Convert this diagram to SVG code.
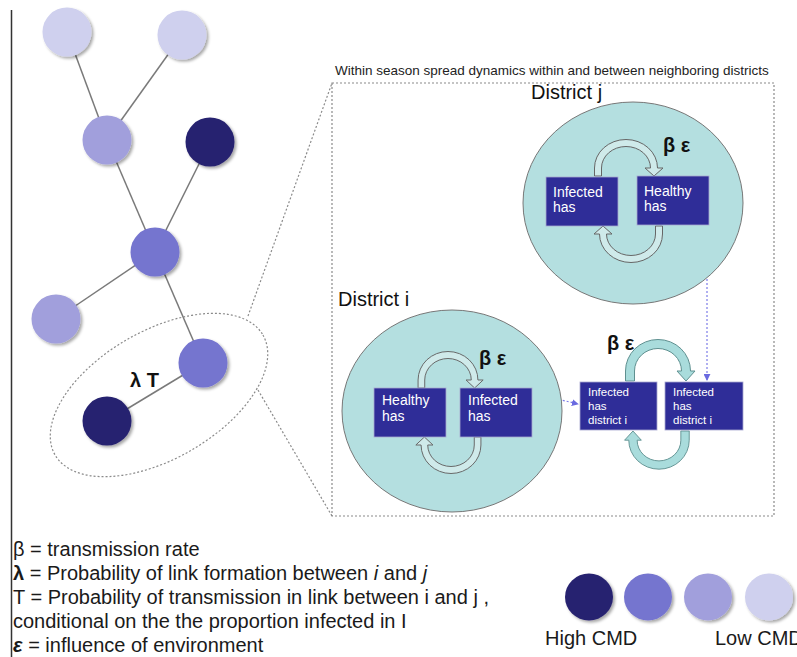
<svg xmlns="http://www.w3.org/2000/svg" xmlns:xlink="http://www.w3.org/1999/xlink" width="797" height="657" viewBox="0 0 797 657">
  <style>
    text { font-family: "Liberation Sans", Arial, sans-serif; }
    .edge { stroke: #7a7a7a; stroke-width: 1.5; fill: none; }
    .dots { stroke: #8a8a8a; stroke-width: 1.2; stroke-dasharray: 2 2; fill: none; }
    .flow { stroke: #7c7ce8; stroke-width: 1.2; stroke-dasharray: 2 2; fill: none; }
    .n1 { fill: #28236f; }
    .n2 { fill: #7574cf; }
    .n3 { fill: #a19fdc; }
    .n4 { fill: #cfd0ee; }
    .district { fill: #b4dfe0; stroke: #777; stroke-width: 1; }
    .box { fill: #2f2d98; stroke: #a8a8d0; stroke-width: 0.8; }
    .boxtxt { fill: #fff; font-size: 14px; }
    .boxtxt-s { fill: #fff; font-size: 11.5px; }
    .rate { font-size: 20px; font-weight: bold; fill: #111; }
    .dname { font-size: 20px; fill: #111; }
    .legend { font-size: 20px; fill: #1a1a1a; }
    .cyc-in { fill: #cfeaea; stroke: #666; stroke-width: 1; }
    .cyc-out { fill: #a9dcdc; stroke: #5f9090; stroke-width: 1; }
  </style>
  <defs>
    <filter id="shadow" x="-30%" y="-30%" width="170%" height="170%">
      <feDropShadow dx="2" dy="2" stdDeviation="1.5" flood-color="#000" flood-opacity="0.35"/>
    </filter>
    <!-- hollow U-shaped cycle arrow: legs at x=-28 and x=+28, base at y=0, head on the right leg -->
    <path id="cycle" d="M-31.5,0 V-8 A31.5,28.5 0 0 1 31.5,-8 H37 L28,0 L19,-8 H24.5 A24.5,21.5 0 0 0 -24.5,-8 V0 Z"/>
    <path id="cycle-wide" d="M-32.5,0 V-10 A32.5,31.5 0 0 1 32.5,-10 H37 L28,0 L19,-10 H23.5 A23.5,22.5 0 0 0 -23.5,-10 V0 Z"/>
    <marker id="tip" viewBox="0 0 8 8" refX="7" refY="4" markerWidth="7" markerHeight="7" orient="auto" markerUnits="userSpaceOnUse">
      <path d="M0,0 L8,4 L0,8 Z" fill="#6a6ae0"/>
    </marker>
  </defs>

  <rect width="797" height="657" fill="#fff"/>

  <!-- left margin rule -->
  <line x1="11.5" y1="10" x2="11.5" y2="657" stroke="#333" stroke-width="1.5"/>

  <!-- network links -->
  <g id="connectors">
    <line class="edge" x1="67" y1="32" x2="107" y2="140"/>
    <line class="edge" x1="182" y1="35" x2="107" y2="140"/>
    <line class="edge" x1="107" y1="140" x2="155" y2="252"/>
    <line class="edge" x1="210" y1="142" x2="155" y2="252"/>
    <line class="edge" x1="155" y1="252" x2="56" y2="319"/>
    <line class="edge" x1="155" y1="252" x2="203" y2="363"/>
    <line class="edge" x1="203" y1="363" x2="107" y2="421"/>
    <!-- zoom outline -->
    <ellipse class="dots" cx="159" cy="395" rx="120" ry="64" transform="rotate(-30 159 395)"/>
    <line class="dots" x1="248" y1="316" x2="332" y2="83"/>
    <line class="dots" x1="258" y1="390" x2="332" y2="516"/>
    <!-- movement of infected material between districts -->
    <line class="flow" x1="520" y1="390" x2="578" y2="404" marker-end="url(#tip)"/>
    <line class="flow" x1="707" y1="227" x2="707" y2="380" marker-end="url(#tip)"/>
  </g>

  <!-- network nodes -->
  <g id="node-a" filter="url(#shadow)"><circle class="n4" cx="67" cy="32" r="24.5"/></g>
  <g id="node-b" filter="url(#shadow)"><circle class="n4" cx="182" cy="35" r="24.5"/></g>
  <g id="node-c" filter="url(#shadow)"><circle class="n3" cx="107" cy="140" r="24.5"/></g>
  <g id="node-d" filter="url(#shadow)"><circle class="n1" cx="210" cy="142" r="24.5"/></g>
  <g id="node-e" filter="url(#shadow)"><circle class="n2" cx="155" cy="252" r="24.5"/></g>
  <g id="node-f" filter="url(#shadow)"><circle class="n3" cx="56" cy="319" r="24.5"/></g>
  <g id="node-g" filter="url(#shadow)"><circle class="n2" cx="203" cy="363" r="24.5"/></g>
  <g id="node-h" filter="url(#shadow)"><circle class="n1" cx="107" cy="421" r="24.5"/></g>
  <text class="rate" x="130" y="387">λ T</text>

  <!-- spread dynamics panel -->
  <g id="panel">
    <text x="335" y="75" font-size="13.5" fill="#222">Within season spread dynamics within and between neighboring districts</text>
    <rect class="dots" x="332" y="83" width="442" height="433"/>
  </g>

  <!-- district j -->
  <g id="district-j">
    <text class="dname" x="531" y="99">District j</text>
    <ellipse class="district" cx="633" cy="203" rx="110" ry="101"/>
    <use href="#cycle" class="cyc-in" transform="translate(626 176)"/>
    <use href="#cycle" class="cyc-in" transform="translate(631 226) rotate(180)"/>
    <text class="rate" x="663" y="152">β  ε</text>
    <g id="j-infected">
      <rect class="box" x="546" y="177" width="72" height="49"/>
      <text class="boxtxt" x="553" y="197">Infected</text>
      <text class="boxtxt" x="553" y="212">has</text>
    </g>
    <g id="j-healthy">
      <rect class="box" x="637" y="176" width="72" height="49"/>
      <text class="boxtxt" x="644" y="196">Healthy</text>
      <text class="boxtxt" x="644" y="211">has</text>
    </g>
  </g>

  <!-- district i -->
  <g id="district-i">
    <text class="dname" x="338" y="306">District i</text>
    <ellipse class="district" cx="452" cy="411" rx="110" ry="101"/>
    <use href="#cycle" class="cyc-in" transform="translate(448 388) scale(0.95 1)"/>
    <use href="#cycle" class="cyc-in" transform="translate(451 437) rotate(180) scale(0.95 1)"/>
    <text class="rate" x="479" y="365">β  ε</text>
    <g id="i-healthy">
      <rect class="box" x="374" y="388" width="72" height="49"/>
      <text class="boxtxt" x="382" y="405">Healthy</text>
      <text class="boxtxt" x="382" y="421">has</text>
    </g>
    <g id="i-infected">
      <rect class="box" x="460" y="388" width="72" height="49"/>
      <text class="boxtxt" x="468" y="405">Infected</text>
      <text class="boxtxt" x="468" y="421">has</text>
    </g>
  </g>

  <!-- between-district exchange -->
  <g id="exchange">
    <use href="#cycle-wide" class="cyc-out" transform="translate(658 381)"/>
    <use href="#cycle-wide" class="cyc-out" transform="translate(659 431) rotate(180) scale(0.93 0.92)"/>
    <text class="rate" x="607" y="350">β  ε</text>
    <g id="x-infected-1">
      <rect class="box" x="580" y="382" width="77" height="48"/>
      <text class="boxtxt-s" x="588" y="396">Infected</text>
      <text class="boxtxt-s" x="588" y="410">has</text>
      <text class="boxtxt-s" x="588" y="424">district i</text>
    </g>
    <g id="x-infected-2">
      <rect class="box" x="665" y="382" width="78" height="48"/>
      <text class="boxtxt-s" x="673" y="396">Infected</text>
      <text class="boxtxt-s" x="673" y="410">has</text>
      <text class="boxtxt-s" x="673" y="424">district i</text>
    </g>
  </g>

  <!-- symbol key -->
  <g id="key">
    <text class="legend" x="13" y="556">β = transmission rate</text>
    <text class="legend" x="13" y="580"><tspan font-weight="bold">λ</tspan> = Probability of link formation between <tspan font-style="italic">i</tspan> and <tspan font-style="italic">j</tspan></text>
    <text class="legend" x="13" y="604">T = Probability of transmission in link between i and j ,</text>
    <text class="legend" x="13" y="628">conditional on the the proportion infected in I</text>
    <text class="legend" x="13" y="652"><tspan font-style="italic" font-weight="bold">ε</tspan> = influence of environment</text>
  </g>

  <!-- CMD colour scale -->
  <g id="cmd-scale">
    <g filter="url(#shadow)">
      <ellipse class="n1" cx="589" cy="597" rx="24" ry="23.5"/>
      <ellipse class="n2" cx="648" cy="597" rx="24" ry="23.5"/>
      <ellipse class="n3" cx="708" cy="597" rx="24" ry="23.5"/>
      <ellipse class="n4" cx="769" cy="597" rx="24" ry="23.5"/>
    </g>
    <text class="legend" x="545" y="645">High CMD</text>
    <text class="legend" x="715" y="645">Low CMD</text>
  </g>
</svg>
